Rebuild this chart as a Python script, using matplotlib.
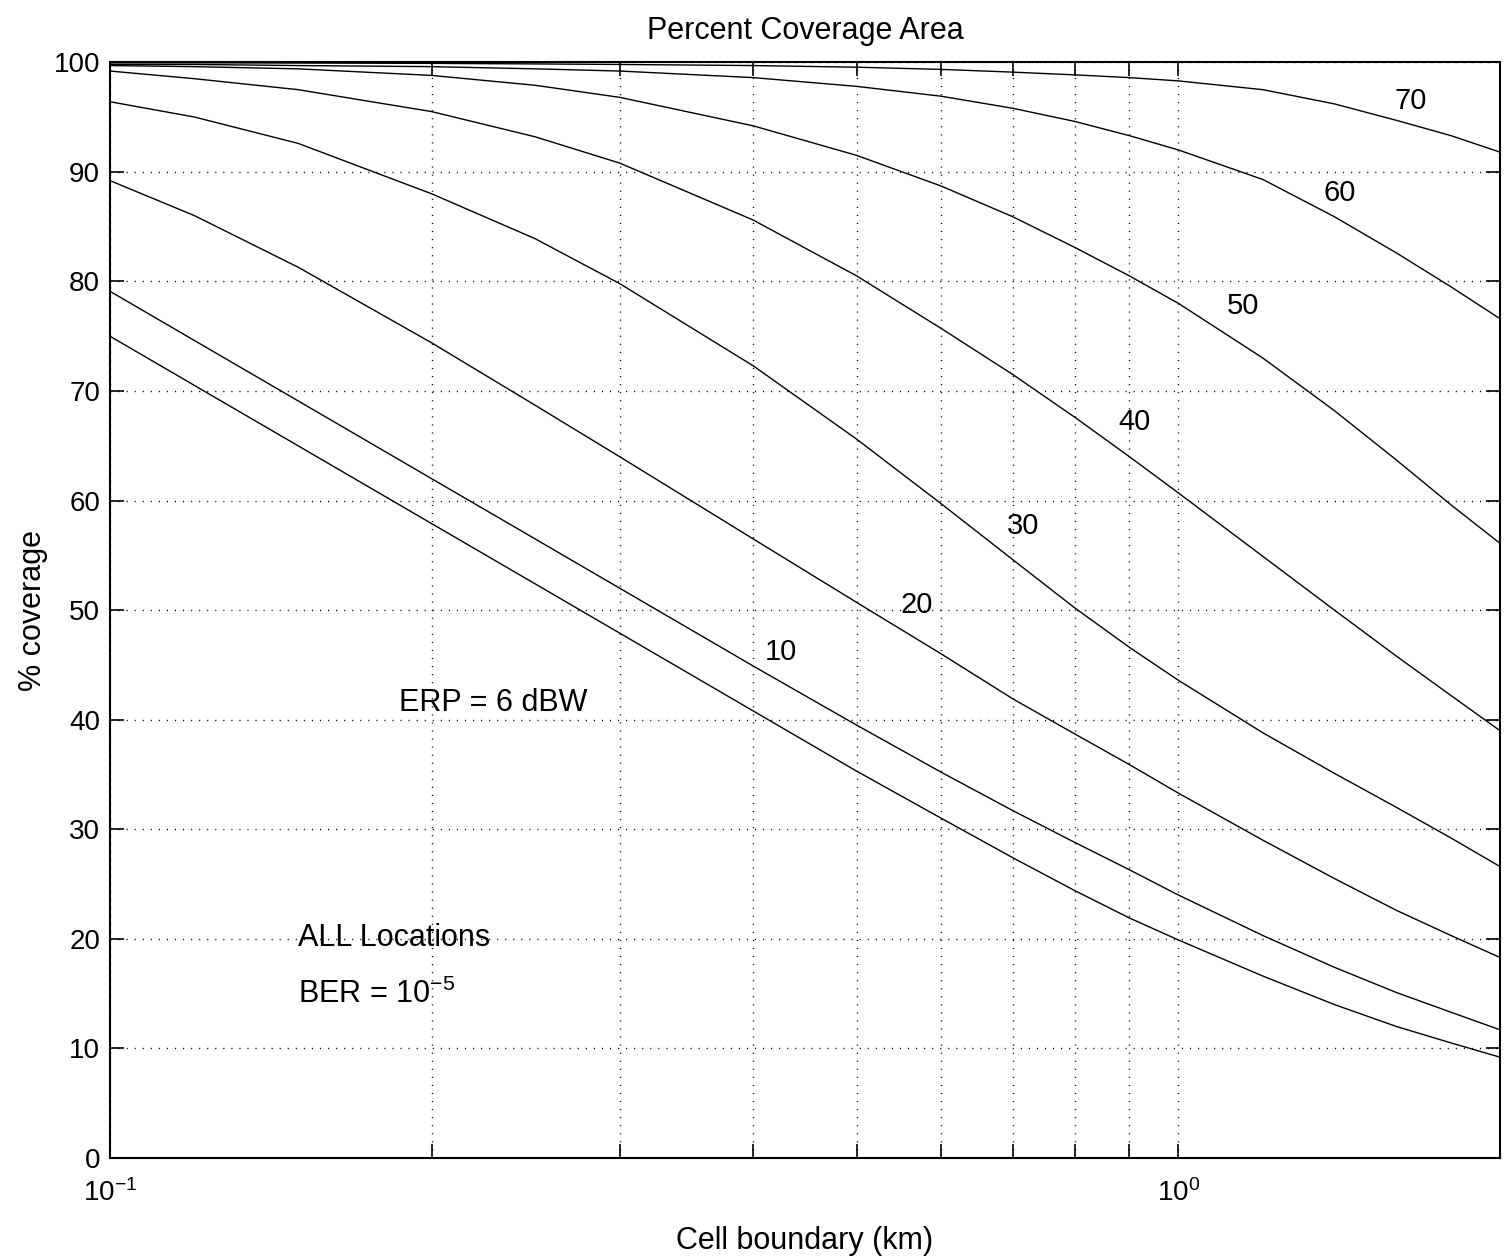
import matplotlib
matplotlib.use('Agg')
import matplotlib.pyplot as plt
from matplotlib.ticker import LogLocator, NullFormatter

plt.rcParams['font.family'] = ['Liberation Sans', 'DejaVu Sans']
plt.rcParams['mathtext.default'] = 'regular'

# cell boundary (km) where the curves were read
km = [0.1, 0.12, 0.15, 0.2, 0.25, 0.3, 0.4, 0.5, 0.6, 0.7, 0.8, 0.9, 1.0, 1.2, 1.4, 1.6, 1.8, 2.0]

# % coverage for each curve
cov_70 = [99.95, 99.95, 99.93, 99.9, 99.85, 99.8, 99.7, 99.55, 99.35, 99.1, 98.85, 98.6, 98.3, 97.5, 96.2, 94.7, 93.3, 91.8]
cov_60 = [99.8, 99.8, 99.7, 99.6, 99.4, 99.2, 98.6, 97.8, 96.9, 95.8, 94.6, 93.3, 92.0, 89.3, 85.9, 82.6, 79.5, 76.6]
cov_50 = [99.7, 99.6, 99.4, 98.8, 97.9, 96.8, 94.2, 91.5, 88.7, 85.9, 83.1, 80.5, 78.0, 73.0, 68.2, 63.7, 59.6, 56.1]
cov_40 = [99.2, 98.5, 97.5, 95.5, 93.2, 90.8, 85.6, 80.5, 75.7, 71.5, 67.6, 64.0, 60.7, 54.9, 50.0, 45.8, 42.2, 39.0]
cov_30 = [96.4, 95.0, 92.6, 88.0, 83.9, 79.8, 72.3, 65.6, 59.7, 54.6, 50.2, 46.6, 43.6, 38.8, 35.1, 32.0, 29.2, 26.6]
cov_20 = [89.2, 86.0, 81.3, 74.4, 68.7, 64.0, 56.5, 50.7, 46.0, 41.9, 38.7, 35.9, 33.3, 29.0, 25.5, 22.6, 20.3, 18.3]
cov_10 = [79.1, 74.6, 69.1, 62.0, 56.5, 52.0, 44.9, 39.5, 35.2, 31.7, 28.8, 26.3, 24.0, 20.3, 17.4, 15.1, 13.3, 11.7]
cov_low = [75.0, 70.5, 65.0, 57.9, 52.4, 47.9, 40.8, 35.3, 31.0, 27.4, 24.4, 21.9, 19.9, 16.6, 14.0, 12.0, 10.5, 9.2]

curve_names = ['70', '60', '50', '40', '30', '20', '10']
label_km = [1.595, 1.366, 1.109, 0.879, 0.691, 0.550, 0.410]
label_pct = [96.5, 88.1, 77.8, 67.2, 57.7, 50.5, 46.2]

fig = plt.figure(figsize=(15.06, 12.58), dpi=100)
ax = fig.add_axes([0.073, 0.0795, 0.923, 0.871])

for cov in [cov_70, cov_60, cov_50, cov_40, cov_30, cov_20, cov_10, cov_low]:
    ax.plot(km, cov, color='black', lw=1.0)

for name, x, y in zip(curve_names, label_km, label_pct):
    ax.text(x, y, name, fontsize=21, ha='left', va='center')

ax.text(0.1866, 41.5, 'ERP = 6 dBW', fontsize=22, ha='left', va='center')
ax.text(0.15, 20.1, 'ALL Locations', fontsize=22, ha='left', va='center')
ax.text(0.15, 14.9, 'BER = 10$^{-5}$', fontsize=22, ha='left', va='center')

ax.set_xscale('log')
ax.set_xlim(0.1, 2.0)
ax.set_ylim(0, 100)
ax.set_yticks(range(0, 101, 10))
ax.xaxis.set_minor_locator(LogLocator(base=10, subs=range(2, 10)))
ax.xaxis.set_minor_formatter(NullFormatter())

dots = (0, (0.8, 5))
ax.grid(True, which='major', axis='y', color='black', lw=1.0, linestyle=dots)
ax.grid(True, which='both', axis='x', color='black', lw=1.0, linestyle=dots)

ax.tick_params(which='both', direction='in', top=True, right=True, length=10, width=1.2)
ax.tick_params(axis='both', labelsize=20)
ax.tick_params(axis='x', pad=15)
ax.tick_params(axis='y', pad=7)
for s in ax.spines.values():
    s.set_linewidth(1.5)

ax.set_title('Percent Coverage Area', fontsize=22, pad=17)
ax.set_xlabel('Cell boundary (km)', fontsize=22, labelpad=14)
ax.set_ylabel('% coverage', fontsize=22, labelpad=4)

fig.savefig('out.png', dpi=100)
